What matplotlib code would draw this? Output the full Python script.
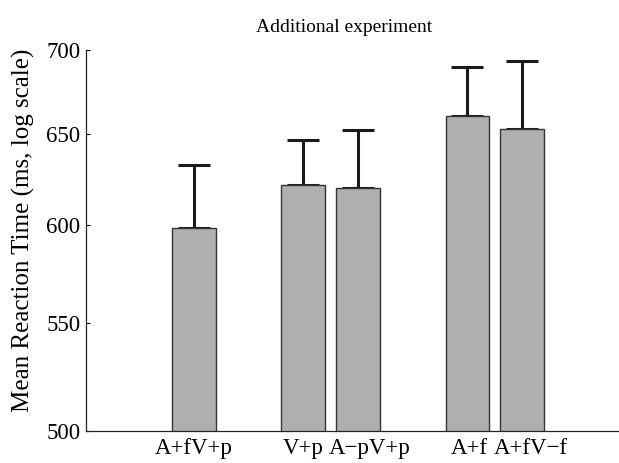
import numpy as np
import matplotlib.pyplot as plt
from matplotlib.ticker import FixedLocator, NullLocator
import matplotlib.transforms as mtransforms

plt.rcParams['font.family'] = ['Liberation Serif', 'DejaVu Serif']

conditions = ['A+fV+p', 'V+p', 'A\u2212pV+p', 'A+f', 'A+fV\u2212f']
positions = [1, 3, 4, 6, 7]
mean_rt = [598.3, 621.5, 619.6, 660.6, 653.0]
err_rt = [34.0, 25.3, 32.4, 29.0, 40.5]
yticks = [500, 550, 600, 650, 700]

fig = plt.figure(figsize=(6.19, 4.63), dpi=100)
ax = fig.add_axes([86/619, 32/463, 532/619, 381/463])

ax.bar(positions, mean_rt, width=0.8, color='#afafaf', edgecolor='#333333',
       linewidth=1.0, zorder=2)
ax.errorbar(positions, mean_rt, yerr=[np.zeros(len(err_rt)), err_rt], fmt='none',
            ecolor='#1a1a1a', elinewidth=2.2, capsize=11.5, capthick=2.2, zorder=1)

ax.set_yscale('log')
ax.set_ylim(500, 700)
ax.set_xlim(-0.97, 8.75)
ax.yaxis.set_major_locator(FixedLocator(yticks))
ax.yaxis.set_minor_locator(NullLocator())
ax.set_yticklabels([str(t) for t in yticks])
ax.set_xticks(positions)
ax.set_xticklabels(conditions)

ax.tick_params(axis='y', direction='in', length=3, width=0.8, labelsize=16.5, pad=4)
ax.tick_params(axis='x', length=0, labelsize=16.5, pad=5)

# nudge overlapping tick labels like in the original
shifts = [0, 0, 12, 2, 9]
for lab, dx in zip(ax.get_xticklabels(), shifts):
    lab.set_transform(lab.get_transform() + mtransforms.Affine2D().translate(dx, 0))

for s in ['top', 'right']:
    ax.spines[s].set_visible(False)
for s in ['left', 'bottom']:
    ax.spines[s].set_linewidth(0.9)
    ax.spines[s].set_color('#222222')

fig.text(23/619, 1 - 230/463, 'Mean Reaction Time (ms, log scale)', rotation=90,
         ha='center', va='center', fontsize=18)
fig.text(344/619, 1 - 28/463, 'Additional experiment', ha='center', va='center', fontsize=14)

fig.savefig('out.png', dpi=100)
